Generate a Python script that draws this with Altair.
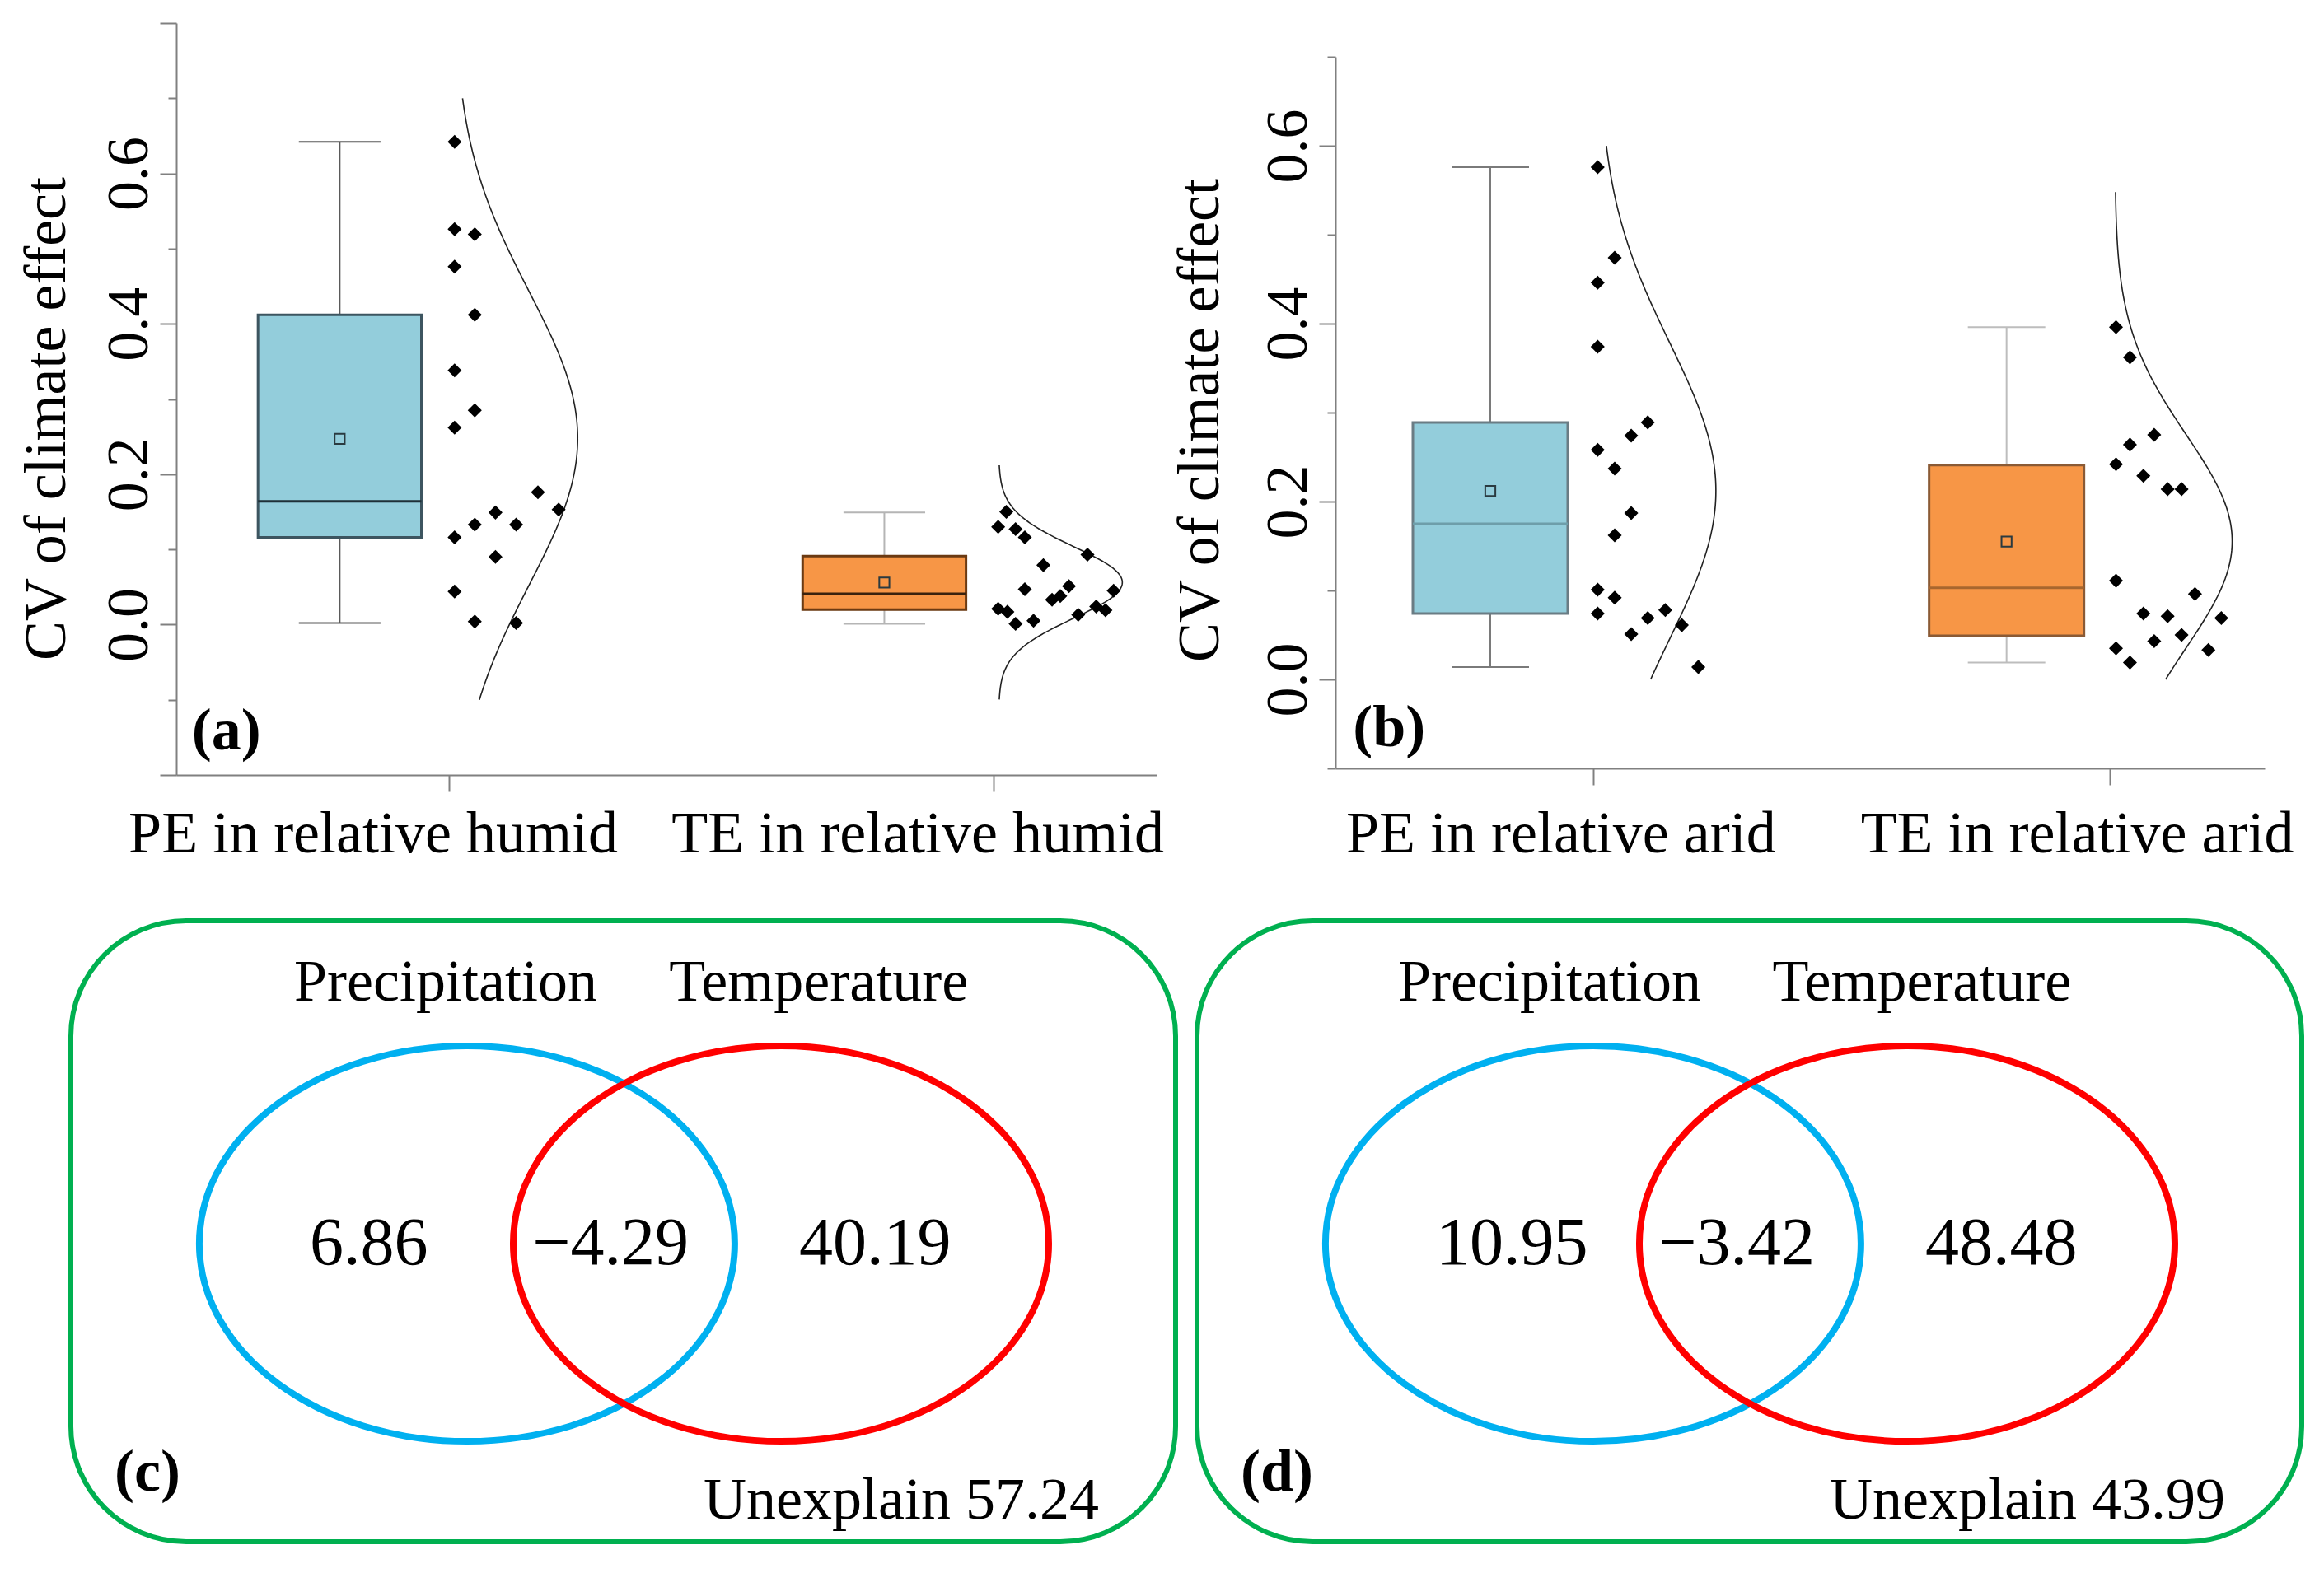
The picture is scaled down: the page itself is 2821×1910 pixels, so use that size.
import altair as alt
import numpy as np
import pandas as pd

SERIF = "Liberation Serif"

# ---------------- panel (a): relative humid ----------------
cats_a = ["PE in relative humid", "TE in relative humid"]
pe_humid = [0.642, 0.526, 0.519, 0.476, 0.412, 0.338, 0.285, 0.262, 0.176,
            0.153, 0.149, 0.133, 0.133, 0.116, 0.090, 0.044, 0.004, 0.002]
pe_humid_jitter = [0.011, 0.011, 0.048, 0.011, 0.048, 0.011, 0.048, 0.011, 0.164,
                   0.202, 0.086, 0.048, 0.124, 0.011, 0.086, 0.011, 0.048, 0.124]
te_humid = [0.150, 0.130, 0.127, 0.116, 0.093, 0.079, 0.047, 0.051, 0.038,
            0.033, 0.045, 0.024, 0.019, 0.021, 0.017, 0.013, 0.005, 0.001]
te_humid_jitter = [0.024, 0.009, 0.041, 0.058, 0.173, 0.092, 0.058, 0.139, 0.123,
                   0.108, 0.221, 0.189, 0.206, 0.009, 0.026, 0.156, 0.074, 0.041]
# lower whisker, Q1, median, Q3, upper whisker, mean
pe_humid_box = [0.002, 0.116, 0.164, 0.412, 0.642, 0.247]
te_humid_box = [0.001, 0.020, 0.041, 0.091, 0.149, 0.056]

# ---------------- panel (b): relative arid ----------------
cats_b = ["PE in relative arid", "TE in relative arid"]
pe_arid = [0.576, 0.474, 0.446, 0.374, 0.289, 0.274, 0.258, 0.237, 0.187,
           0.162, 0.101, 0.092, 0.074, 0.078, 0.069, 0.051, 0.061, 0.014]
pe_arid_jitter = [0.008, 0.041, 0.008, 0.008, 0.105, 0.073, 0.008, 0.041, 0.073,
                  0.041, 0.008, 0.041, 0.008, 0.139, 0.105, 0.073, 0.171, 0.203]
te_arid = [0.396, 0.362, 0.275, 0.264, 0.242, 0.229, 0.214, 0.214, 0.111,
           0.096, 0.074, 0.071, 0.069, 0.050, 0.043, 0.035, 0.033, 0.019]
te_arid_jitter = [0.012, 0.039, 0.086, 0.039, 0.012, 0.065, 0.112, 0.139, 0.012,
                  0.165, 0.065, 0.112, 0.216, 0.139, 0.086, 0.012, 0.191, 0.039]
pe_arid_box = [0.014, 0.074, 0.175, 0.289, 0.576, 0.212]
te_arid_box = [0.019, 0.049, 0.103, 0.241, 0.396, 0.155]

# ---------------- panels (c), (d): variance partitioning ----------------
venn_sets = ["Precipitation", "Temperature"]
venn_c = [6.86, -4.29, 40.19]          # only precipitation, shared, only temperature
venn_c_unexplained = 57.24
venn_d = [10.95, -3.42, 48.48]
venn_d_unexplained = 43.99

# ---------------- layout / style constants ----------------
BOX_SHIFT, BOX_HALF, CAP_HALF = -0.2, 0.15, 0.075
CURVE_BASE, CURVE_WIDTH, CURVE_SD = 0.01, 0.227, 3.27
X_DOMAIN = [0.5, 2.3]
AXIS_GREY = "#808080"

STYLE_A = [
    dict(fill="#93CDDB", stroke="#3D5560", median="#1F3038", whisker="#5A5A5A"),
    dict(fill="#F79646", stroke="#6B3A12", median="#3A220E", whisker="#B5B5B5"),
]
STYLE_B = [
    dict(fill="#93CDDB", stroke="#6A7C84", median="#6E9EAA", whisker="#7A7A7A"),
    dict(fill="#F79646", stroke="#8A5A35", median="#A8662E", whisker="#BDBDBD"),
]


def y_axis(lo, hi, title_x, title_y):
    vals = [round(lo + 0.1 * i, 1) for i in range(int(round((hi - lo) * 10)) + 1)]
    return alt.Axis(
        values=vals,
        labelExpr="indexof([0,2,4,6], round(datum.value*10)) >= 0 ? format(datum.value, '.1f') : ''",
        tickSize={"condition": {"test": "round(datum.value*10) % 2 != 0", "value": 10}, "value": 20},
        grid=False, domainColor=AXIS_GREY, domainWidth=2, tickColor=AXIS_GREY, tickWidth=2,
        labelFont=SERIF, labelFontSize=72, labelColor="black", labelAngle=270,
        labelAlign="center", labelBaseline="alphabetic", labelPadding=16,
        labelOverlap=False, labelFlush=False,
        titleFont=SERIF, titleFontSize=72, titleFontWeight="normal", titleColor="black",
        titleAngle=270, titleAlign="center", titleBaseline="alphabetic",
        titleX=title_x, titleY=title_y,
    )


def x_axis(cats, label_offset, label_pad):
    expr = "['" + "','".join(cats) + "'][datum.value - 1]"
    return alt.Axis(
        values=[1, 2], labelExpr=expr, grid=False,
        domainColor=AXIS_GREY, domainWidth=2, tickColor=AXIS_GREY, tickWidth=2, tickSize=20,
        labelFont=SERIF, labelFontSize=72, labelColor="black", labelAngle=0, labelLimit=0,
        labelAlign="center", labelBaseline="top", labelPadding=label_pad, labelOffset=label_offset,
        labelOverlap=False, labelFlush=False, labelBound=False,
    )


def raincloud(cats, groups, styles, ydom, clip, width, height, letter, letter_xy,
              label_offset, label_pad, title_x, title_y):
    xs = alt.Scale(domain=X_DOMAIN, nice=False, zero=False)
    ysc = alt.Scale(domain=ydom, nice=False, zero=False)
    xa = x_axis(cats, label_offset, label_pad)
    ya = y_axis(ydom[0], ydom[1], title_x, title_y)
    ytitle = "CV of climate effect"

    def X(f):
        return alt.X(f, type="quantitative", scale=xs, axis=xa, title=None)

    def Y(f):
        return alt.Y(f, type="quantitative", scale=ysc, axis=ya, title=ytitle)

    layers = []
    for cat, (vals, jit, box), st in zip([1, 2], groups, styles):
        bdf = pd.DataFrame([dict(zip(["lo", "q1", "med", "q3", "hi", "mean"], box))])
        bdf["cat"] = cat
        base = alt.Chart(bdf).transform_calculate(
            xc=f"datum.cat + {BOX_SHIFT}",
            xl=f"datum.cat + {BOX_SHIFT - BOX_HALF}",
            xr=f"datum.cat + {BOX_SHIFT + BOX_HALF}",
            cl=f"datum.cat + {BOX_SHIFT - CAP_HALF}",
            cr=f"datum.cat + {BOX_SHIFT + CAP_HALF}",
        )
        layers += [
            base.mark_rule(color=st["whisker"], strokeWidth=2).encode(x=X("xc"), y=Y("lo"), y2="q1"),
            base.mark_rule(color=st["whisker"], strokeWidth=2).encode(x=X("xc"), y=Y("q3"), y2="hi"),
            base.mark_rule(color=st["whisker"], strokeWidth=2).encode(x=X("cl"), x2="cr", y=Y("lo")),
            base.mark_rule(color=st["whisker"], strokeWidth=2).encode(x=X("cl"), x2="cr", y=Y("hi")),
            base.mark_rect(fill=st["fill"], stroke=st["stroke"], strokeWidth=3).encode(
                x=X("xl"), x2="xr", y=Y("q1"), y2="q3"),
            base.mark_rule(color=st["median"], strokeWidth=3).encode(x=X("xl"), x2="xr", y=Y("med")),
            base.mark_point(shape="square", size=150, filled=False, stroke="#2A3A40",
                            strokeWidth=2, opacity=1).encode(x=X("xc"), y=Y("mean")),
        ]
        # fitted normal distribution curve of the group's values
        v = np.array(vals)
        m, s = v.mean(), v.std(ddof=1)
        ys = np.linspace(max(clip[0], m - CURVE_SD * s), min(clip[1], m + CURVE_SD * s), 160)
        cdf = pd.DataFrame({"yv": ys, "d": np.exp(-0.5 * ((ys - m) / s) ** 2), "i": np.arange(len(ys))})
        cdf["cat"] = cat
        layers.append(
            alt.Chart(cdf).transform_calculate(
                xv=f"datum.cat + {CURVE_BASE} + {CURVE_WIDTH} * datum.d"
            ).mark_line(color="#222222", strokeWidth=1.6).encode(
                x=X("xv"), y=Y("yv"), order="i:Q")
        )
        pdf = pd.DataFrame({"value": vals, "jit": jit})
        pdf["cat"] = cat
        layers.append(
            alt.Chart(pdf).transform_calculate(xp="datum.cat + datum.jit").mark_point(
                shape="diamond", size=290, filled=True, color="black", opacity=1
            ).encode(x=X("xp"), y=Y("value"))
        )
    ldf = pd.DataFrame({"lx": [letter_xy[0]], "ly": [letter_xy[1]], "t": [letter]})
    layers.append(
        alt.Chart(ldf).mark_text(font=SERIF, fontSize=72, fontWeight="bold", color="black",
                                 align="center", baseline="middle").encode(
            x=X("lx"), y=Y("ly"), text="t:N")
    )
    return alt.layer(*layers).properties(width=width, height=height)


def spacer(w, h):
    return alt.Chart(pd.DataFrame({"v": [0]})).mark_point(opacity=0).encode(
        x=alt.X("v:Q", axis=None), y=alt.Y("v:Q", axis=None)
    ).properties(width=w, height=h)


panel_a = raincloud(
    cats_a,
    [(pe_humid, pe_humid_jitter, pe_humid_box), (te_humid, te_humid_jitter, te_humid_box)],
    STYLE_A, [-0.2, 0.8], [-0.1, 0.7], 1190, 913, "(a)", (0.592, -0.142),
    -92, 16, -136, 480,
)
panel_b = raincloud(
    cats_b,
    [(pe_arid, pe_arid_jitter, pe_arid_box), (te_arid, te_arid_jitter, te_arid_box)],
    STYLE_B, [-0.1, 0.7], [0.0, 0.6], 1128, 864, "(b)", (0.604, -0.055),
    -40, 24, -143, 441,
)

# ---------------- Venn panels ----------------
RY = 240 / 325
K = 0.5523
ELLIPSE = (f"M -1 0 C -1 {-K*RY:.4f} {-K:.4f} {-RY:.4f} 0 {-RY:.4f} "
           f"C {K:.4f} {-RY:.4f} 1 {-K*RY:.4f} 1 0 "
           f"C 1 {K*RY:.4f} {K:.4f} {RY:.4f} 0 {RY:.4f} "
           f"C {-K:.4f} {RY:.4f} -1 {K*RY:.4f} -1 0 Z")
VENN_W, VENN_H = 1341, 754
VX = alt.Scale(domain=[-1.262, 2.257], nice=False, zero=False)
VY = alt.Scale(domain=[-0.950, 1.029], nice=False, zero=False)


def fmt(v):
    return f"{v:.2f}".replace("-", "\u2212")


def venn(values, unexplained, letter, set_label_x):
    sets = pd.DataFrame({"set": venn_sets, "cx": [0.0, 1.0], "cy": [0.0, 0.0]})
    ell = alt.Chart(sets).mark_point(shape=ELLIPSE, size=(2 * 325) ** 2, filled=False,
                                     strokeWidth=8, opacity=1).encode(
        x=alt.X("cx:Q", scale=VX, axis=None),
        y=alt.Y("cy:Q", scale=VY, axis=None),
        stroke=alt.Stroke("set:N", scale=alt.Scale(domain=venn_sets, range=["#00B0F0", "#FF0000"]),
                          legend=None),
    )
    set_lab = alt.Chart(pd.DataFrame({"t": venn_sets, "tx": set_label_x, "ty": [0.832, 0.832]})
                        ).mark_text(font=SERIF, fontSize=72, color="black", align="center",
                                    baseline="middle").encode(
        x=alt.X("tx:Q", scale=VX, axis=None), y=alt.Y("ty:Q", scale=VY, axis=None), text="t:N")
    vdf = pd.DataFrame({"t": [fmt(v) for v in values]})
    side = vdf.iloc[[0, 2]].copy()
    side["tx"] = [-0.501, 1.058]
    mid = vdf.iloc[[1]].copy()
    mid["tx"] = [0.457]
    side["ty"] = 0.0
    mid["ty"] = 0.0
    num_side = alt.Chart(side).mark_text(font=SERIF, fontSize=82, color="black", align="left",
                                         baseline="middle").encode(
        x=alt.X("tx:Q", scale=VX, axis=None), y=alt.Y("ty:Q", scale=VY, axis=None), text="t:N")
    num_mid = alt.Chart(mid).mark_text(font=SERIF, fontSize=82, color="black", align="center",
                                       baseline="middle").encode(
        x=alt.X("tx:Q", scale=VX, axis=None), y=alt.Y("ty:Q", scale=VY, axis=None), text="t:N")
    une = alt.Chart(pd.DataFrame({"t": [f"Unexplain {unexplained:.2f}"], "tx": [2.013], "ty": [-0.819]})
                    ).mark_text(font=SERIF, fontSize=72, color="black", align="right",
                                baseline="middle").encode(
        x=alt.X("tx:Q", scale=VX, axis=None), y=alt.Y("ty:Q", scale=VY, axis=None), text="t:N")
    let = alt.Chart(pd.DataFrame({"t": [letter], "tx": [-1.123], "ty": [-0.73]})
                    ).mark_text(font=SERIF, fontSize=72, fontWeight="bold", color="black", align="left",
                                baseline="middle").encode(
        x=alt.X("tx:Q", scale=VX, axis=None), y=alt.Y("ty:Q", scale=VY, axis=None), text="t:N")
    return alt.layer(ell, set_lab, num_side, num_mid, une, let).properties(
        width=VENN_W, height=VENN_H,
        view=alt.ViewBackground(stroke="#00B050", strokeWidth=6, cornerRadius=140, fill="white"),
    )


panel_c = venn(venn_c, venn_c_unexplained, "(c)", [-0.068, 1.12])
panel_d = venn(venn_d, venn_d_unexplained, "(d)", [-0.139, 1.047])

# rows: leading spacers set each row's left edge; panel (b) sits 40px lower than (a)
row1 = alt.hconcat(spacer(1, 10), panel_a, spacer(3, 10),
                   alt.vconcat(spacer(1, 40), panel_b, spacing=0), spacing=0)
row2 = alt.hconcat(spacer(48, 10), panel_c, panel_d, spacing=20)

chart = alt.vconcat(row1, row2, spacing=67).properties(
    padding={"left": 4, "top": 19, "right": 0, "bottom": 0},
    background="white",
).configure_view(strokeWidth=0)

chart.save("out.html", embed_options={"renderer": "svg", "actions": False})
